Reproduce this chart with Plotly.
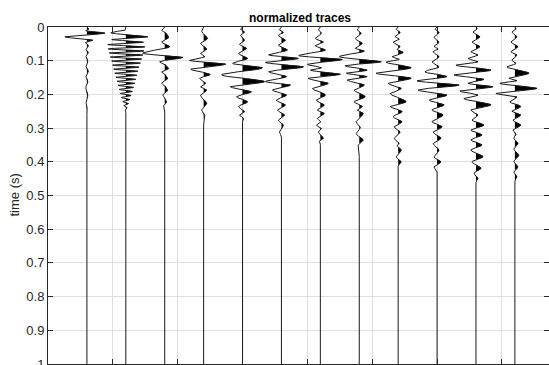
import numpy as np
import plotly.graph_objects as go

# ---------------- data ----------------
# trace positions along the x axis
trace_offsets = [3, 6, 9, 12, 15, 18, 21, 24, 27, 30, 33, 36]

# per-trace lobe extremes: times (s) and normalized amplitudes (+ = right / filled)
T1 = [0.000, 0.006, 0.011, 0.018, 0.029, 0.039, 0.046, 0.055, 0.065, 0.075, 0.085, 0.100, 0.115, 0.130, 0.145, 0.160, 0.180, 0.200, 0.220, 0.240, 0.250]
A1 = [0.00, 0.09, -0.05, 0.82, -1.00, 0.27, -0.07, 0.07, -0.05, 0.07, -0.05, 0.05, -0.05, 0.07, -0.05, 0.05, -0.05, 0.05, -0.04, 0.02, 0.00]

T2 = [0.008, 0.017, 0.029, 0.037, 0.045, 0.052, 0.059, 0.065, 0.071, 0.077, 0.083, 0.089, 0.095, 0.101, 0.107, 0.113, 0.119, 0.125, 0.131, 0.137,
      0.143, 0.149, 0.155, 0.161, 0.167, 0.173, 0.179, 0.185, 0.191, 0.197, 0.203, 0.209, 0.215, 0.221, 0.227, 0.233, 0.239, 0.245, 0.250]
A2 = [0.00, -0.68, 1.00, -0.64, 0.80, -0.82, 0.86, -0.80, 0.82, -0.75, 0.77, -0.70, 0.72, -0.64, 0.66, -0.60, 0.60, -0.55, 0.55, -0.50,
      0.50, -0.45, 0.45, -0.40, 0.40, -0.35, 0.35, -0.30, 0.30, -0.25, 0.24, -0.20, 0.18, -0.14, 0.12, -0.09, 0.06, -0.03, 0.00]

T3 = [0.000, 0.009, 0.020, 0.031, 0.044, 0.058, 0.078, 0.090, 0.103, 0.113, 0.123, 0.133, 0.143, 0.152, 0.167, 0.177, 0.187, 0.202, 0.212, 0.222, 0.232, 0.245]
A3 = [0.00, -0.14, 0.09, 0.18, -0.14, 0.23, -1.00, 0.82, -0.23, 0.05, 0.18, -0.14, 0.05, 0.14, -0.14, 0.05, 0.14, -0.09, 0.02, 0.09, -0.05, 0.00]

T4 = [0.000, 0.012, 0.034, 0.048, 0.065, 0.078, 0.088, 0.099, 0.110, 0.125, 0.141, 0.152, 0.167, 0.177, 0.187, 0.202, 0.226, 0.246, 0.261, 0.276]
A4 = [0.00, -0.09, 0.18, -0.14, 0.14, -0.14, 0.05, -0.64, 1.00, -0.58, 0.30, -0.18, 0.09, -0.14, 0.14, -0.14, 0.14, -0.09, 0.05, 0.00]

T5 = [0.000, 0.006, 0.015, 0.024, 0.039, 0.051, 0.063, 0.078, 0.093, 0.108, 0.121, 0.142, 0.162, 0.177, 0.192, 0.207, 0.222, 0.236, 0.251, 0.261, 0.271, 0.282]
A5 = [0.00, -0.09, 0.09, -0.09, 0.09, -0.14, 0.18, -0.18, 0.23, -0.45, 0.90, -0.95, 1.00, -0.55, 0.40, -0.27, 0.23, -0.18, 0.09, -0.14, 0.05, 0.00]

T6 = [0.000, 0.008, 0.016, 0.025, 0.039, 0.053, 0.068, 0.083, 0.093, 0.105, 0.118, 0.133, 0.147, 0.162, 0.172, 0.187, 0.202, 0.217, 0.231, 0.246,
      0.261, 0.276, 0.291, 0.311, 0.326]
A6 = [0.00, -0.09, 0.09, -0.14, 0.18, -0.14, 0.27, -0.58, 0.77, -0.73, 1.00, -0.58, 0.23, -0.73, 0.41, -0.41, 0.23, -0.23, 0.18, -0.18,
      0.14, -0.14, 0.09, -0.09, 0.00]

T7 = [0.000, 0.008, 0.018, 0.034, 0.044, 0.055, 0.068, 0.085, 0.096, 0.111, 0.121, 0.128, 0.140, 0.152, 0.167, 0.182, 0.202, 0.217, 0.231, 0.246,
      0.256, 0.271, 0.281, 0.291, 0.301, 0.311, 0.330, 0.338, 0.344]
A7 = [0.00, -0.09, 0.05, -0.23, 0.14, -0.23, 0.23, -0.98, 1.00, -0.59, 0.05, -0.45, 0.91, -0.55, 0.36, -0.36, 0.23, -0.18, 0.18, -0.14,
      0.18, -0.14, 0.02, -0.18, 0.05, -0.09, 0.14, -0.05, 0.00]

T8 = [0.000, 0.008, 0.018, 0.034, 0.048, 0.063, 0.071, 0.088, 0.103, 0.115, 0.128, 0.137, 0.147, 0.157, 0.172, 0.187, 0.207, 0.222, 0.236, 0.246,
      0.256, 0.281, 0.298, 0.316, 0.335, 0.350, 0.362]
A8 = [0.00, -0.09, 0.09, -0.18, 0.14, -0.18, 0.23, -0.90, 1.00, -0.64, 0.36, -0.59, 0.36, -0.55, 0.23, -0.23, 0.27, -0.23, 0.14, -0.09,
      0.18, -0.14, 0.05, -0.14, 0.18, -0.05, 0.00]

T9 = [0.000, 0.006, 0.016, 0.028, 0.036, 0.044, 0.058, 0.066, 0.075, 0.088, 0.096, 0.104, 0.121, 0.137, 0.152, 0.167, 0.182, 0.197, 0.222, 0.236,
      0.251, 0.266, 0.281, 0.296, 0.311, 0.330, 0.345, 0.352, 0.365, 0.385, 0.400, 0.412]
A9 = [0.00, -0.09, 0.09, -0.14, 0.05, -0.23, 0.09, -0.05, 0.23, -0.27, 0.05, -0.55, 0.59, -1.00, 0.59, -0.45, 0.14, -0.36, 0.36, -0.36,
      0.18, -0.23, 0.18, -0.18, 0.09, -0.18, 0.05, -0.05, 0.14, -0.09, 0.14, 0.00]

T10 = [0.000, 0.006, 0.016, 0.030, 0.045, 0.057, 0.065, 0.073, 0.088, 0.103, 0.118, 0.133, 0.147, 0.160, 0.172, 0.187, 0.202, 0.217, 0.231, 0.246,
       0.261, 0.281, 0.296, 0.311, 0.330, 0.345, 0.365, 0.385, 0.400, 0.415, 0.430]
A10 = [0.00, -0.09, 0.09, -0.14, 0.09, -0.14, 0.05, -0.18, 0.09, -0.23, 0.09, -0.55, 0.45, -0.91, 1.00, -0.86, 0.45, -0.36, 0.32, -0.23,
       0.27, -0.23, 0.23, -0.18, 0.18, -0.18, 0.09, -0.14, 0.18, -0.14, 0.00]

T11 = [0.000, 0.005, 0.014, 0.029, 0.044, 0.058, 0.073, 0.083, 0.093, 0.103, 0.113, 0.128, 0.142, 0.155, 0.167, 0.177, 0.190, 0.202, 0.212, 0.231,
       0.246, 0.261, 0.276, 0.291, 0.306, 0.320, 0.335, 0.350, 0.365, 0.385, 0.400, 0.419, 0.434, 0.449, 0.460]
A11 = [0.00, 0.05, -0.14, 0.18, -0.18, 0.18, -0.23, 0.09, -0.36, 0.09, -0.91, 0.68, -1.00, 0.36, -0.36, 0.77, -0.73, 0.09, -0.55, 0.68,
       -0.23, 0.09, -0.18, 0.36, -0.23, 0.27, -0.23, 0.27, -0.23, 0.32, -0.18, 0.23, -0.09, 0.09, 0.00]

T12 = [0.000, 0.005, 0.014, 0.029, 0.044, 0.058, 0.073, 0.083, 0.098, 0.108, 0.118, 0.137, 0.152, 0.159, 0.167, 0.182, 0.197, 0.207, 0.222, 0.236,
       0.249, 0.261, 0.276, 0.291, 0.305, 0.318, 0.330, 0.345, 0.362, 0.380, 0.398, 0.415, 0.430, 0.444, 0.457]
A12 = [0.00, 0.05, -0.14, 0.09, -0.18, 0.14, -0.18, 0.09, -0.14, 0.05, -0.36, 0.64, -0.27, 0.09, -0.68, 1.00, -0.86, 0.09, -0.23, 0.27,
       -0.14, 0.27, -0.09, 0.27, -0.09, 0.05, -0.05, 0.14, -0.05, 0.18, -0.05, 0.14, -0.05, 0.09, 0.00]

y_tick_values = [0, 0.1, 0.2, 0.3, 0.4, 0.5, 0.6, 0.7, 0.8, 0.9, 1]
y_tick_labels = ["0", "0.1", "0.2", "0.3", "0.4", "0.5", "0.6", "0.7", "0.8", "0.9", "1"]
x_tick_values = [0, 5, 10, 15, 20, 25, 30, 35]

# ---------------- drawing ----------------
trace_times = [T1, T2, T3, T4, T5, T6, T7, T8, T9, T10, T11, T12]
trace_amps = [A1, A2, A3, A4, A5, A6, A7, A8, A9, A10, A11, A12]
for tk, ak in zip(trace_times, trace_amps):
    assert len(tk) == len(ak)

GAIN = 1.70          # x-units per unit normalized amplitude
t = np.linspace(0.0, 1.0, 5001)


def wiggle(tk, ak):
    a = np.zeros_like(t)
    for i in range(len(tk) - 1):
        m = (t >= tk[i]) & (t <= tk[i + 1])
        u = (t[m] - tk[i]) / (tk[i + 1] - tk[i])
        a[m] = ak[i] + (ak[i + 1] - ak[i]) * (1 - np.cos(np.pi * u)) / 2
    return a


fig = go.Figure()
for off, tk, ak in zip(trace_offsets, trace_times, trace_amps):
    a = wiggle(tk, ak)
    xpos = off + GAIN * np.maximum(a, 0)
    fig.add_trace(go.Scatter(
        x=np.concatenate([xpos, [off, off]]),
        y=np.concatenate([t, [1.0, 0.0]]),
        mode="none", fill="toself", fillcolor="black",
        hoverinfo="skip", showlegend=False))
for off, tk, ak in zip(trace_offsets, trace_times, trace_amps):
    a = wiggle(tk, ak)
    fig.add_trace(go.Scatter(
        x=off + GAIN * a, y=t, mode="lines",
        line=dict(color="#1a1a1a", width=1),
        hoverinfo="skip", showlegend=False))

axis_col = "#262626"
grid_col = "#dfdfdf"
font_fam = "Liberation Sans, Arial, Helvetica, sans-serif"

fig.update_layout(
    width=549, height=365,
    margin=dict(l=48, r=0, t=27, b=1, autoexpand=False),
    paper_bgcolor="white", plot_bgcolor="white",
    showlegend=False,
    title=dict(text="<b>normalized traces</b>", xref="container", x=300 / 549,
               xanchor="center", yref="container", y=1 - 17.5 / 365, yanchor="middle",
               font=dict(family=font_fam, size=12, color="black")),
    xaxis=dict(range=[0, 38.63], tickvals=x_tick_values, showticklabels=False,
               ticks="inside", ticklen=5, tickcolor=axis_col, automargin=False,
               showgrid=True, gridcolor=grid_col, gridwidth=1,
               showline=True, linecolor=axis_col, linewidth=1, mirror="ticks",
               zeroline=False),
    yaxis=dict(range=[1, 0], tickvals=y_tick_values, ticktext=y_tick_labels,
               ticks="inside", ticklen=5, tickcolor=axis_col, automargin=False,
               ticklabeloverflow="allow",
               tickfont=dict(family=font_fam, size=13, color=axis_col),
               showgrid=True, gridcolor=grid_col, gridwidth=1,
               showline=True, linecolor=axis_col, linewidth=1, mirror="ticks",
               zeroline=False),
    annotations=[dict(text="time (s)", textangle=-90, xref="paper", yref="paper",
                      x=(14 - 48) / 501, y=0.5, xanchor="center", yanchor="middle",
                      showarrow=False, font=dict(family=font_fam, size=13, color=axis_col))],
)

fig.write_html("out.html")
